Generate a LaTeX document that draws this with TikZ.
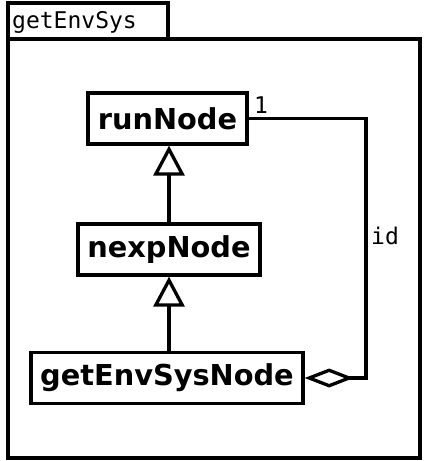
\documentclass[tikz,border=0pt]{standalone}
\usepackage{fontspec}
\setmainfont{DejaVu Sans}
\setmonofont{DejaVu Sans Mono}
\usetikzlibrary{arrows.meta,positioning}

\tikzset{
  classbox/.style={draw, line width=3.3pt, inner sep=0pt, minimum height=51pt,
    font=\bfseries\fontsize{28.8}{32}\selectfont},
  pkgline/.style={draw, line width=3.3pt},
  monolabel/.style={font=\ttfamily\fontsize{23}{26}\selectfont, inner sep=0pt},
  inherit/.style={line width=3.3pt, -{Triangle[open, length=30pt, width=31pt]}},
  aggregate/.style={line width=3.3pt, {Diamond[open, length=49pt, width=19pt]}-}
}

\begin{document}
\begin{tikzpicture}[x=1pt, y=-1pt]
  \useasboundingbox (0,0) rectangle (425,461);
  % package frame
  \draw[pkgline] (8,3) rectangle (168,39);
  \draw[pkgline] (8,39) rectangle (420,458);
  \node[monolabel, anchor=west] (pkgname) at (12,22) {getEnvSys};
  % classes
  \node[classbox, minimum width=159pt] (runNode) at (167.5,118.5) {runNode};
  \node[classbox, minimum width=182pt] (nexpNode) at (169,249.5) {nexpNode};
  \node[classbox, minimum width=272pt] (getEnvSysNode) at (167,378) {getEnvSysNode};
  % generalizations
  \draw[inherit] (nexpNode.north) -- (nexpNode.north |- runNode.south);
  \draw[inherit] (getEnvSysNode.north -| nexpNode.north) -- (nexpNode.south);
  % aggregation
  \coordinate (aggcorner) at (366,0);
  \draw[aggregate] (getEnvSysNode.east) -- (getEnvSysNode.east -| aggcorner)
    |- (runNode.east);
  \node[monolabel, anchor=south west] (mult) at (254,114) {1};
  \node[monolabel, anchor=west] (role) at (371,236) {id};
\end{tikzpicture}
\end{document}
